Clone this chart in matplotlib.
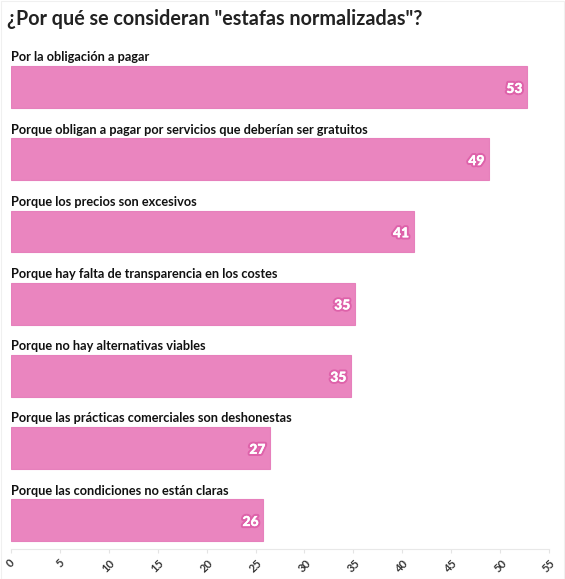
import matplotlib
matplotlib.use("Agg")
import matplotlib.pyplot as plt
import matplotlib.patheffects as pe
from matplotlib.patches import Rectangle

categories = [
    "Por la obligación a pagar",
    "Porque obligan a pagar por servicios que deberían ser gratuitos",
    "Porque los precios son excesivos",
    "Porque hay falta de transparencia en los costes",
    "Porque no hay alternativas viables",
    "Porque las prácticas comerciales son deshonestas",
    "Porque las condiciones no están claras",
]
values = [52.8, 48.9, 41.2, 35.2, 34.8, 26.5, 25.8]
labels = ["53", "49", "41", "35", "35", "27", "26"]
xticks = [0, 5, 10, 15, 20, 25, 30, 35, 40, 45, 50, 55]

W, H = 565, 579
fig = plt.figure(figsize=(W / 100, H / 100), dpi=100)
fig.patch.set_facecolor("white")

left_px, right_px, top_px, bottom_px = 11, 549, 51, 549
ax = fig.add_axes([left_px / W, (H - bottom_px) / H,
                   (right_px - left_px) / W, (bottom_px - top_px) / H])

font = ["Lato", "DejaVu Sans"]
bar_color = "#EA85BF"
edge_color = "#E680BC"

ys = list(range(len(categories)))
ax.barh(ys, values, height=0.58, color=bar_color, edgecolor=edge_color, linewidth=0.8)
ax.set_xlim(0, 55)
ax.set_ylim(6.4, -0.5)

for y, v, lab, cat in zip(ys, values, labels, categories):
    ax.text(0, y - 0.41, cat, ha="left", va="center", fontsize=9.2,
            fontweight="bold", family=font, color="#111111")
    t = ax.text(v - 0.5, y + 0.02, lab, ha="right", va="center", fontsize=10,
                fontweight="heavy", family=font, color="white")
    t.set_path_effects([pe.withStroke(linewidth=3, foreground="#DE62AA"), pe.Normal()])

ax.set_yticks([])
ax.set_xticks(xticks)
ax.set_xticklabels([str(x) for x in xticks], rotation=45, fontsize=8,
                   family=font, fontweight="bold", color="#333333",
                   ha="center", va="top")
ax.tick_params(axis="x", length=3, color="#e4e4e4", pad=3)
for s in ["top", "right", "left"]:
    ax.spines[s].set_visible(False)
ax.spines["bottom"].set_color("#e8e8e8")
ax.spines["bottom"].set_linewidth(0.8)

fig.text(7 / W, 1 - 19 / H, "¿Por qué se consideran \"estafas normalizadas\"?",
         ha="left", va="center", fontsize=14.2, fontweight="bold",
         family=font, color="#222222")

fig.patches.append(Rectangle((0.5 / W, 0.5 / H), 1 - 1.5 / W, 1 - 1.5 / H,
                             transform=fig.transFigure, fill=False,
                             edgecolor="#f0f0f0", linewidth=0.8))

fig.savefig("out.png", dpi=100, facecolor="white")
